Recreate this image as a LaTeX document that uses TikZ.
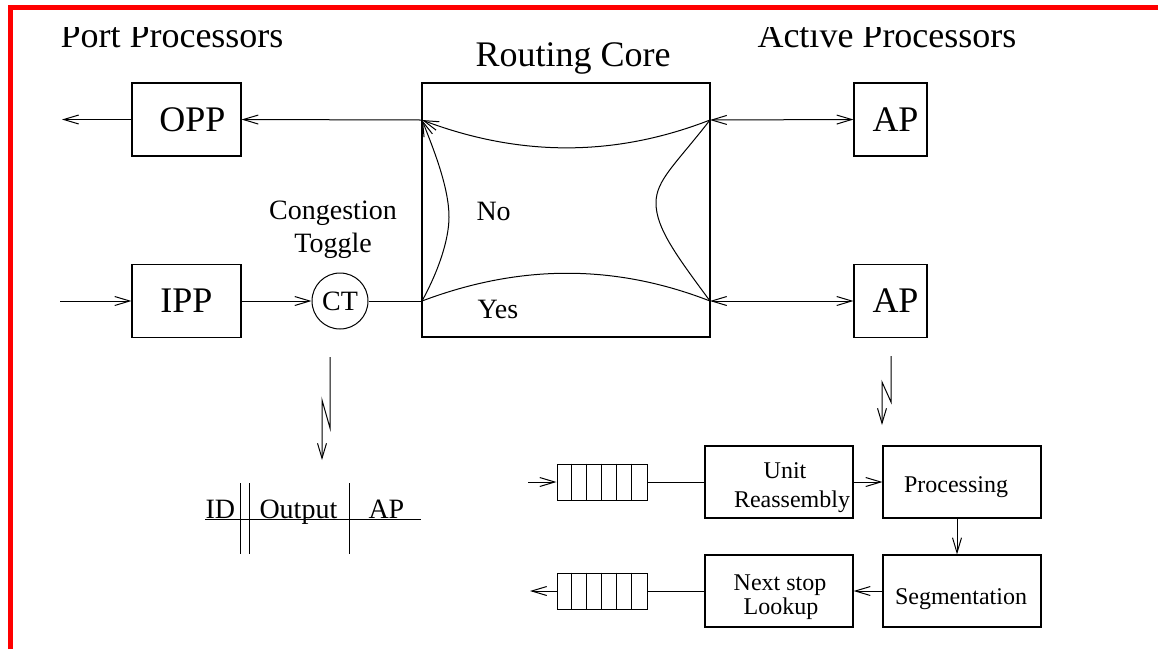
\documentclass[tikz,border=0pt]{standalone}
\usepackage{fontspec}
\setmainfont{Liberation Serif}
\usetikzlibrary{arrows.meta}
\begin{document}
\begin{tikzpicture}[x=1pt,y=-1pt,
  line width=1pt,
  >={Straight Barb[length=15pt,width=9pt]},
  bigtxt/.style={font=\fontsize{36}{40}\selectfont},
  midtxt/.style={font=\fontsize{28}{33}\selectfont},
  smalltxt/.style={font=\fontsize{24}{28}\selectfont},
  lbl/.style={inner sep=0pt, anchor=base},
  blk/.style={draw, line width=1.1pt, inner sep=0pt},
  queue/.style={draw, line width=1pt, inner sep=0pt, minimum width=90pt, minimum height=36pt}]
\useasboundingbox (0,0) rectangle (1158,649);

% frame edge
\draw[red, line width=5pt] (10.8,649) -- (10.8,7.5) -- (1158,7.5);

% section titles
\begin{scope}
  \clip (0,27) rectangle (1158,649);
  \node[lbl, anchor=base west, bigtxt] (tport) at (60,47) {Port Processors};
  \node[lbl, anchor=base west, bigtxt] (tcore) at (475,66) {Routing Core};
  \node[lbl, anchor=base west, bigtxt] (tact) at (757,47) {Active Processors};
\end{scope}

% port processors
\node[blk, bigtxt, minimum width=109pt, minimum height=73pt] (opp) at (186.5,119.5) {\hspace*{12pt}OPP};
\node[blk, bigtxt, minimum width=109pt, minimum height=73pt] (ipp) at (186.5,301) {IPP};
\node[draw, circle, minimum size=56pt, inner sep=0pt, midtxt] (ct) at (340,301) {CT};
\node[midtxt, align=center, inner sep=0pt] (ctname) at (333,229.5) {Congestion\\Toggle};

% routing core
\node[blk, minimum width=288pt, minimum height=254pt] (core) at (566,210) {};
\coordinate (cTL) at (422,120);
\coordinate (cBL) at (422,301);
\coordinate (cTR) at (710,120);
\coordinate (cBR) at (710,301);
\node[lbl, anchor=base west, midtxt] (no) at (476,220) {No};
\node[lbl, anchor=base west, midtxt] (yes) at (477,318) {Yes};

\draw[->] (cTR) .. controls (615,157) and (520,157) .. (cTL);
\draw[->] (cBL) .. controls (438,272) and (449,240) .. (449,217)
               .. controls (449,188) and (434,150) .. (cTL);
\draw (cBL) .. controls (520,264) and (615,264) .. (cBR);
\draw (cTR) .. controls (675,165) and (656,180) .. (656,203)
            .. controls (656,228) and (676,255) .. (cBR);

% active processors
\node[blk, bigtxt, minimum width=73pt, minimum height=73pt] (ap1) at (890.5,119.5) {\hspace*{10pt}AP};
\node[blk, bigtxt, minimum width=73pt, minimum height=73pt] (ap2) at (890.5,301) {\hspace*{10pt}AP};

% port connections
\coordinate (oppout) at (62,119.5);
\coordinate (ippin) at (60,301);
\draw[->] (opp.west) -- (oppout);
\draw[->] (cTL) -- (opp.east);
\draw[->] (ippin) -- (ipp.west);
\draw[->] (ipp.east) -- (ct.west);
\draw (ct.east) -- (cBL);
\draw[<->] (cTR) -- (ap1.west);
\draw[<->] (cBR) -- (ap2.west);

% header format
\coordinate (tabL) at (205,519);
\coordinate (tabR) at (421,519);
\draw (tabL) -- (tabR);
\coordinate (v1t) at (240.7,483); \coordinate (v1b) at (240.7,554);
\coordinate (v2t) at (249.3,483); \coordinate (v2b) at (249.3,554);
\coordinate (v3t) at (349,483);   \coordinate (v3b) at (349,554);
\draw (v1t) -- (v1b);
\draw (v2t) -- (v2b);
\draw (v3t) -- (v3b);
\node[lbl, anchor=base west, midtxt] (fid) at (205,518) {ID};
\node[lbl, anchor=base west, midtxt] (fout) at (259,518) {Output};
\node[lbl, anchor=base west, midtxt] (fap) at (368,518) {AP};

% zig-zag links
\coordinate (zc0) at (330,357); \coordinate (zc1) at (330,428);
\coordinate (zc2) at (322,400); \coordinate (zc3) at (322,460);
\draw[->] (zc0) -- (zc1) -- (zc2) -- (zc3);
\coordinate (za0) at (891,356); \coordinate (za1) at (891,402);
\coordinate (za2) at (882,382); \coordinate (za3) at (882,425);
\draw[->] (za0) -- (za1) -- (za2) -- (za3);

% active processor pipeline
\node[queue] (q1) at (602,482) {};
\node[queue] (q2) at (602,591) {};
\foreach \q in {q1,q2}
  \foreach \i in {1,...,5}
    \draw ([xshift=\i*15pt]\q.north west) -- ([xshift=\i*15pt]\q.south west);

\node[blk, minimum width=148pt, minimum height=72pt] (ura) at (779,482) {};
\node[blk, minimum width=158pt, minimum height=72pt] (proc) at (962,482) {};
\node[blk, minimum width=158pt, minimum height=72pt] (seg) at (962,591) {};
\node[blk, minimum width=148pt, minimum height=72pt] (nsl) at (779,591) {};

\node[lbl, smalltxt] (uraA) at (785,478) {Unit};
\node[lbl, smalltxt] (uraB) at (792,507) {Reassembly};
\node[lbl, smalltxt] (procA) at (956,492) {Processing};
\node[lbl, smalltxt] (segA) at (961,604) {Segmentation};
\node[lbl, smalltxt] (nslA) at (780,590) {Next stop};
\node[lbl, smalltxt] (nslB) at (781,614) {Lookup};

\coordinate (qin) at (528,482);
\coordinate (qout) at (530,591);
\draw[->] (qin) -- (q1.west);
\draw (q1.east) -- (ura.west);
\draw[->] (ura.east) -- (proc.west);
\draw[->] ([xshift=-5pt]proc.south) -- ([xshift=-5pt]seg.north);
\draw[->] (seg.west) -- (nsl.east);
\draw (nsl.west) -- (q2.east);
\draw[->] (q2.west) -- (qout);
\end{tikzpicture}
\end{document}
